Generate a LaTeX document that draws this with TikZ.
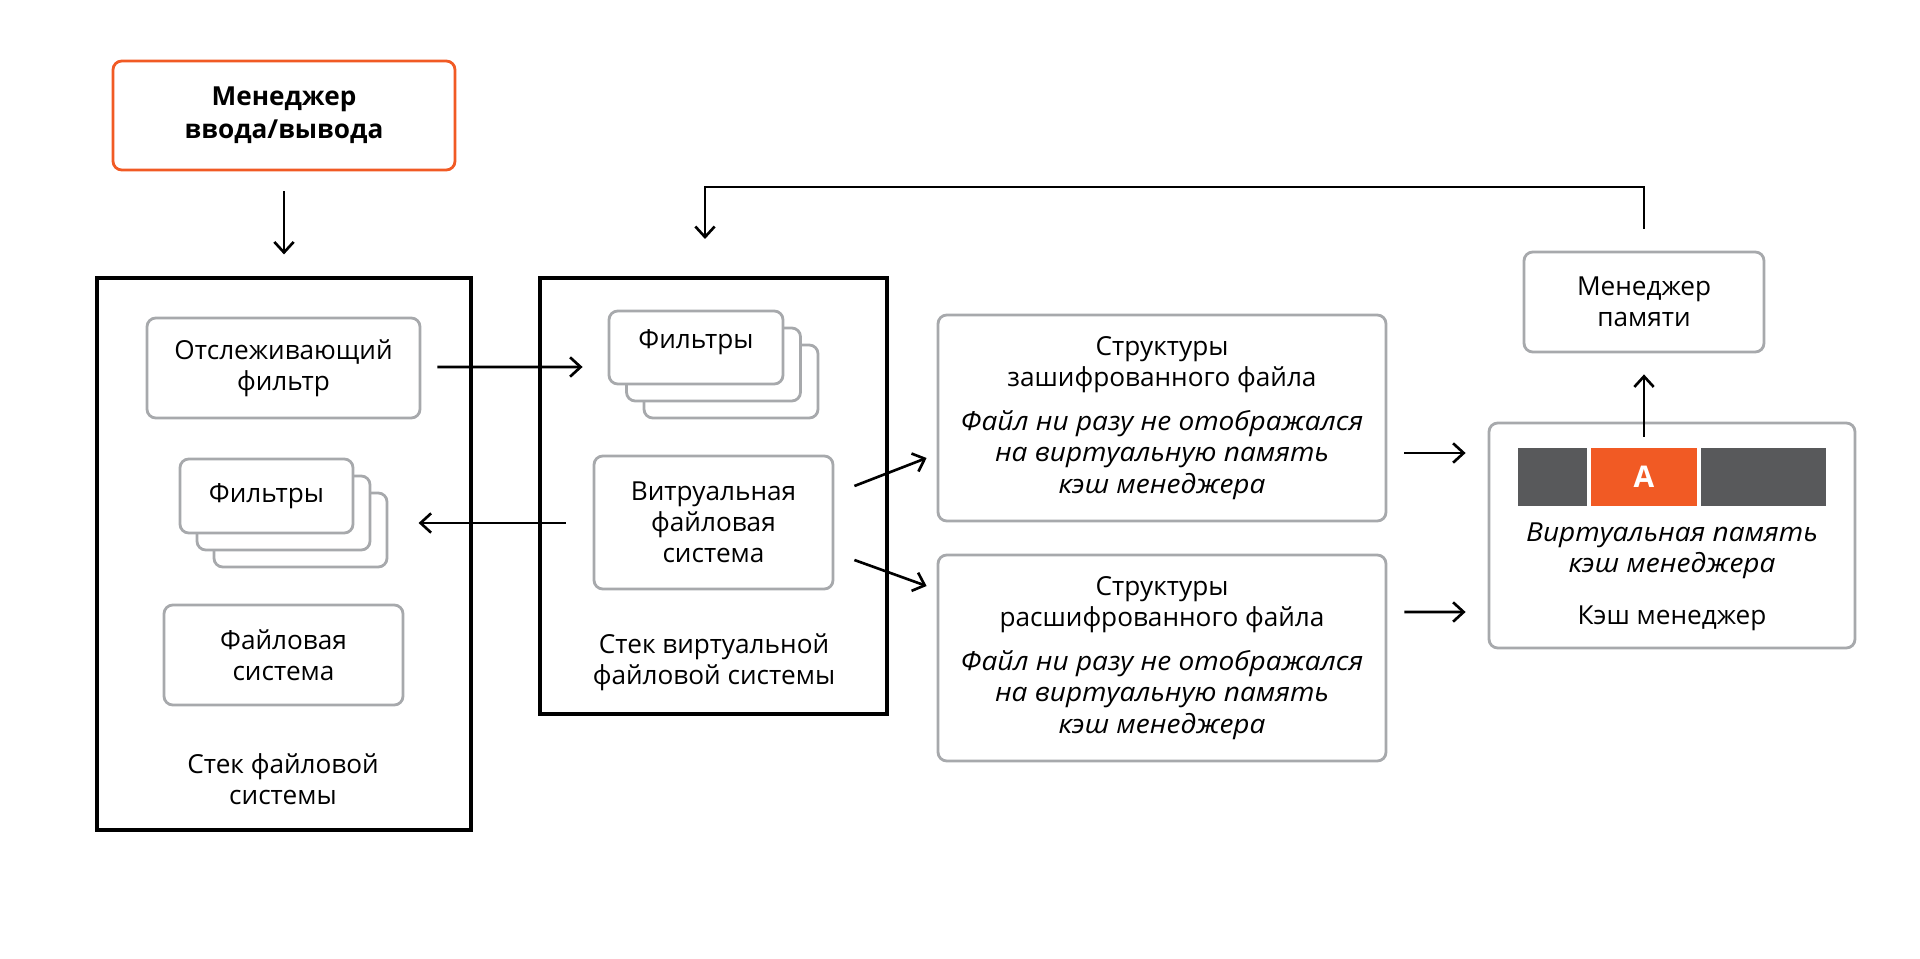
\documentclass[tikz,border=0pt]{standalone}
\usepackage{fontspec}
\setmainfont{Open Sans}[ItalicFeatures={FakeStretch=1.07}]
\usetikzlibrary{arrows.meta,calc}
\newlength\pxu
\setlength\pxu{0.02cm}
\definecolor{ioorange}{HTML}{F15A24}
\definecolor{boxgray}{HTML}{A7A9AC}
\definecolor{bardark}{HTML}{58595B}
\begin{document}
\begin{tikzpicture}[x=0.02cm,y=-0.02cm,
    font=\fontsize{14.9}{17.8}\selectfont]

    \tikzset{
      graybox/.style={
        draw=boxgray,
        line width=1.6pt,
        rounded corners=5pt,
        fill=white,
        align=center,
        inner sep=0pt,
      },
      stackbox/.style={
        draw=black,
        line width=1.8pt,
        inner sep=0pt,
      },
      barcell/.style={
        fill=bardark,
        inner sep=0pt,
        minimum height=58\pxu,
      },
      arr/.style={
        -{Straight Barb[length=6pt,width=11pt,line width=1.5pt]},
        line width=1.5pt,
      },
    }
    \useasboundingbox (0,0) rectangle (1920,959);

    % I/O manager
    \node[graybox, draw=ioorange, minimum width=342\pxu, minimum height=109\pxu,
      font=\fontsize{14.9}{19}\selectfont\bfseries] (io) at (284,115.5) {Менеджер\\ввода/вывода};

    % file system stack
    \node[stackbox, minimum width=374\pxu, minimum height=552\pxu] (fsstack) at (284,554) {};
    \node[graybox, minimum width=273\pxu, minimum height=100\pxu] (track) at (283.5,368) {Отслеживающий\\фильтр};
    \foreach \i in {2,1,0}
      \node[graybox, minimum width=173\pxu, minimum height=74\pxu] (lfilt\i) at (266.5+17*\i,496+17*\i) {};
    \node at (lfilt0) {Фильтры};
    \node[graybox, minimum width=239\pxu, minimum height=100\pxu] (fsys) at (283.5,655) {Файловая\\система};
    \node[align=center] (fslabel) at (283,779) {Стек файловой\\системы};

    % virtual file system stack
    \node[stackbox, minimum width=347\pxu, minimum height=436\pxu] (vstack) at (713.5,496) {};
    \foreach \i in {2,1,0}
      \node[graybox, minimum width=174\pxu, minimum height=73\pxu] (mfilt\i) at (696+17.5*\i,347.5+17*\i) {};
    \node at ($(mfilt0)+(0,-5)$) {Фильтры};
    \node[graybox, minimum width=239\pxu, minimum height=133\pxu] (vfs) at (713.5,522.5) {Витруальная\\файловая\\система};
    \node[align=center] (vlabel) at (714,662) {Стек виртуальной\\файловой системы};

    % file structures
    \node[graybox, minimum width=448\pxu, minimum height=206\pxu] (enc) at (1162,418)
      {Структуры\\зашифрованного файла\\[7pt]\textit{Файл ни разу не отображался}\\\textit{на виртуальную память}\\\textit{кэш менеджера}};
    \node[graybox, minimum width=448\pxu, minimum height=206\pxu] (dec) at (1162,658)
      {Структуры\\расшифрованного файла\\[7pt]\textit{Файл ни разу не отображался}\\\textit{на виртуальную память}\\\textit{кэш менеджера}};

    % cache manager
    \node[graybox, minimum width=366\pxu, minimum height=225\pxu] (cache) at (1672,535.5) {};
    \node[barcell, minimum width=69\pxu] (barL) at (1552.5,477) {};
    \node[barcell, fill=ioorange, minimum width=106\pxu, text=white, font=\fontsize{17}{20}\selectfont\bfseries] (barA) at (1644,477) {A};
    \node[barcell, minimum width=125\pxu] (barR) at (1763.5,477) {};
    \node[align=center] (vmem) at (1672,551) {\textit{Виртуальная память}\\\textit{кэш менеджера}};
    \node (cmlabel) at (1672,618) {Кэш менеджер};

    % memory manager
    \node[graybox, minimum width=240\pxu, minimum height=100\pxu] (mem) at (1644,302) {Менеджер\\памяти};

    % connectors
    \draw[arr] ($(io.south)+(0,20)$) -- ($(fsstack.north)+(0,-22)$);
    \draw[arr] ($(track.east)+(16,-1)$) -- ($(mfilt0.west)+(-25,19.5)$);
    \draw[arr] ($(vfs.west)+(-27,0.5)$) -- ($(vfs.west)+(-174,0.5)$);
    \draw[arr] ($(vfs.east)+(20,-36.5)$) -- ($(enc.west)+(-10,40)$);
    \draw[arr] ($(vfs.east)+(20,37.5)$) -- ($(dec.west)+(-10,-72)$);
    \draw[arr] ($(enc.east)+(17,35)$) -- ($(cache.west)+(-22,-82.5)$);
    \draw[arr] ($(dec.east)+(17,-46)$) -- ($(cache.west)+(-22,76.5)$);
    \draw[arr] ($(barA.north)+(0,-11)$) -- ($(mem.south)+(0,21)$);
    \coordinate (fbturn) at (705,187);
    \draw[arr] ($(mem.north)+(0,-22)$) |- (fbturn) -- (fbturn |- 0,239);

\end{tikzpicture}
\end{document}
